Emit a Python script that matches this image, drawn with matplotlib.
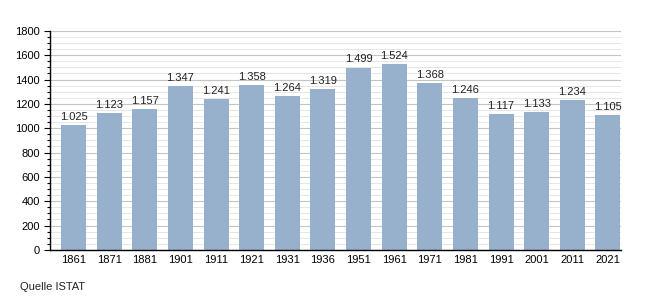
import matplotlib
matplotlib.use("Agg")
import matplotlib.pyplot as plt
from matplotlib.ticker import MultipleLocator

# Einwohnerentwicklung
jahre = ["1861", "1871", "1881", "1901", "1911", "1921", "1931", "1936",
         "1951", "1961", "1971", "1981", "1991", "2001", "2011", "2021"]
einwohner = [1025, 1123, 1157, 1347, 1241, 1358, 1264, 1319,
             1499, 1524, 1368, 1246, 1117, 1133, 1234, 1105]

plt.rcParams['font.family'] = ['Liberation Sans', 'DejaVu Sans']

fig = plt.figure(figsize=(6.5, 3.0), dpi=100)
ax = fig.add_axes([0.077, 0.167, 0.878, 0.73])

x = range(len(jahre))
ax.bar(x, einwohner, width=0.7, color="#97b1cd", zorder=2)

for i, v in enumerate(einwohner):
    ax.text(i, v + 25, f"{v:,}".replace(",", "."), ha="center", va="bottom",
            fontsize=8, color="#222222")

ax.set_xlim(-0.66, len(jahre) - 0.64)
ax.set_ylim(0, 1800)
ax.set_xticks(list(x))
ax.set_xticklabels(jahre, fontsize=8)
ax.yaxis.set_major_locator(MultipleLocator(200))
ax.yaxis.set_minor_locator(MultipleLocator(50))
ax.tick_params(axis="y", labelsize=8, length=4, width=0.8)
ax.tick_params(axis="y", which="minor", length=2.5, width=0.8)
ax.tick_params(axis="x", length=0, pad=4)

ax.grid(axis="y", which="major", color="#c4c4c4", linewidth=0.8, zorder=0)
ax.grid(axis="y", which="minor", color="#e2e2e2", linewidth=0.6, zorder=0)

for s in ["top", "right"]:
    ax.spines[s].set_visible(False)
ax.spines["left"].set_linewidth(1.0)
ax.spines["bottom"].set_linewidth(1.0)

fig.text(0.031, 0.035, "Quelle ISTAT", fontsize=8, color="#222222")

fig.savefig("out.png", dpi=100)
